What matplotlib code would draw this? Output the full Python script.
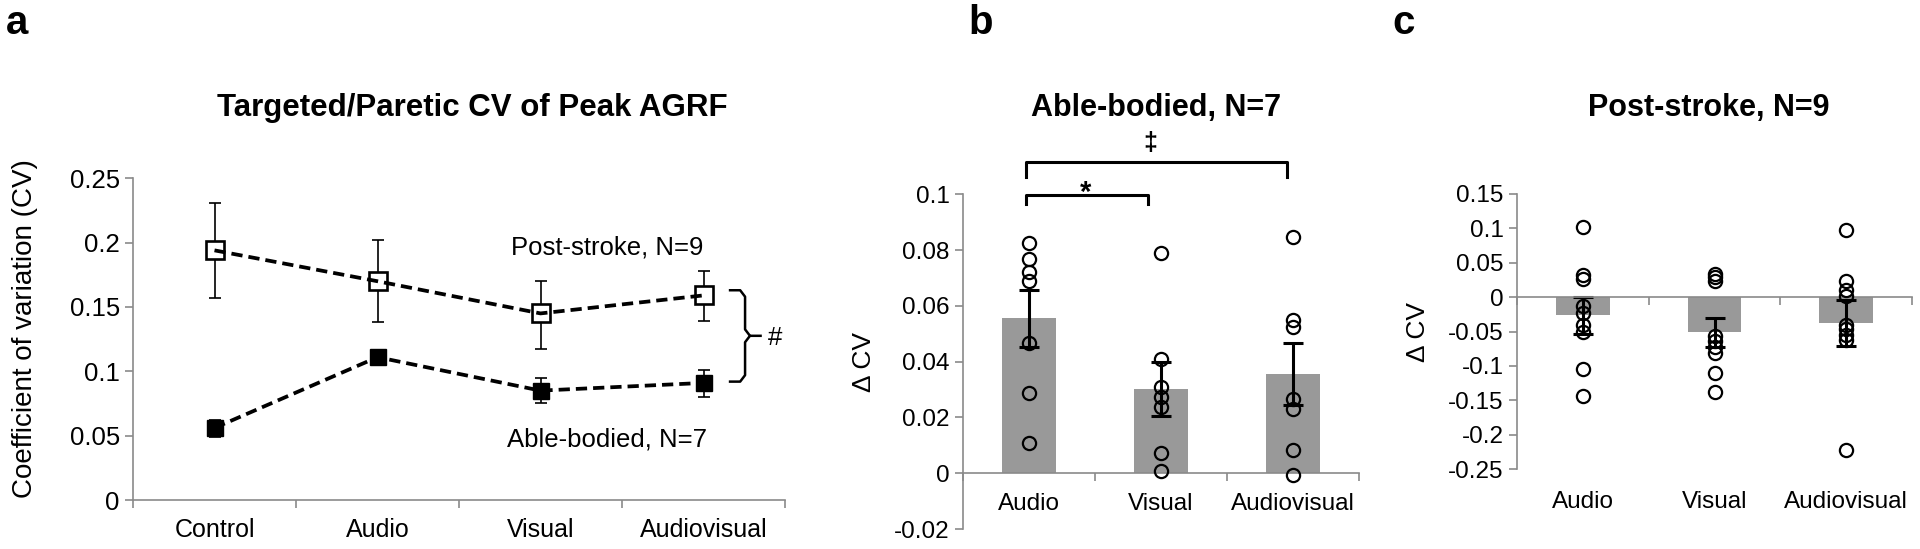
"""
plot.py — CV do pico de AGRF (painel a) e ΔCV por feedback (painéis b, c).

Gera out.png (1920x549).
"""

import numpy as np
import matplotlib
matplotlib.use("Agg")
import matplotlib.pyplot as plt
from matplotlib.ticker import FuncFormatter
from matplotlib.transforms import blended_transform_factory

# ===================================================================
# Dados
# ===================================================================
conds_a = ["Control", "Audio", "Visual", "Audiovisual"]
stroke_mean = [0.194, 0.170, 0.145, 0.159]
stroke_lo = [0.157, 0.138, 0.117, 0.139]
stroke_hi = [0.231, 0.202, 0.170, 0.178]
able_mean = [0.056, 0.111, 0.085, 0.091]
able_lo = [0.049, 0.106, 0.075, 0.080]
able_hi = [0.062, 0.116, 0.095, 0.101]

conds_bc = ["Audio", "Visual", "Audiovisual"]

able_dcv_mean = [0.0556, 0.0301, 0.0356]
able_dcv_se = [0.0102, 0.0097, 0.0110]
able_dcv_pts = [
    [0.0827, 0.0768, 0.0723, 0.0691, 0.0466, 0.0286, 0.0107],
    [0.0791, 0.0408, 0.0310, 0.0274, 0.0236, 0.0071, 0.0008],
    [0.0849, 0.0550, 0.0526, 0.0268, 0.0232, 0.0083, -0.0007],
]

stroke_dcv_mean = [-0.0267, -0.0514, -0.0378]
stroke_dcv_se = [0.027, 0.021, 0.034]
stroke_dcv_pts = [
    [0.1016, 0.0327, 0.0265, -0.0124, -0.0226, -0.0400, -0.0512, -0.1045, -0.1433],
    [0.034, 0.029, 0.023, -0.057, -0.064, -0.072, -0.081, -0.111, -0.138],
    [0.0972, 0.023, 0.011, 0.001, -0.040, -0.047, -0.055, -0.062, -0.222],
]

GRAY_AX = "#8a8a8a"
GRAY_BAR = "#999999"
W, H = 1920, 549

plt.rcParams["font.family"] = ["Liberation Sans", "DejaVu Sans"]


def fx(px):
    return px / W


def fy(py):
    return 1 - py / H


def tick_fmt(v, _pos):
    if abs(v) < 1e-9:
        return "0"
    return f"{round(v, 3):g}"


def style_axis(ax, fs):
    for s in ("top", "right"):
        ax.spines[s].set_visible(False)
    for s in ("left", "bottom"):
        ax.spines[s].set_color(GRAY_AX)
        ax.spines[s].set_linewidth(1.2)
    ax.tick_params(axis="both", direction="out", color=GRAY_AX, width=1.2,
                   length=6, labelsize=fs)
    ax.tick_params(axis="x", labelbottom=False)
    ax.yaxis.set_major_formatter(FuncFormatter(tick_fmt))


def cat_labels(fig, ax, labels, y_px, fs):
    tr = blended_transform_factory(ax.transData, fig.transFigure)
    for i, c in enumerate(labels):
        ax.text(i, fy(y_px), c, transform=tr, ha="center", va="baseline",
                fontsize=fs, clip_on=False)


def bar_panel(fig, ax, means, ses, pts, ylim, step):
    x = np.arange(len(conds_bc))
    ax.bar(x, means, width=0.41, color=GRAY_BAR, zorder=1)
    ax.errorbar(x, means, yerr=ses, fmt="none", ecolor="black",
                elinewidth=2.2, capsize=7, capthick=2.2, zorder=2)
    for i, p in enumerate(pts):
        ax.plot(np.full(len(p), x[i]), p, "o", mfc="none", mec="black",
                ms=9.5, mew=1.6, zorder=3, clip_on=False)
    ax.set_xlim(-0.5, len(conds_bc) - 0.5)
    ax.set_ylim(*ylim)
    ax.set_yticks(np.round(np.arange(ylim[0], ylim[1] + step / 2, step), 3))
    ax.set_xticks(np.arange(-0.5, len(conds_bc), 1.0))
    style_axis(ax, 17.5)
    ax.spines["bottom"].set_position(("data", 0))
    ax.set_ylabel("Δ CV", fontsize=19, labelpad=13)


def main():
    fig = plt.figure(figsize=(W / 100, H / 100), dpi=100)

    # ---------------------------------------------------------------
    # a. CV ao longo das condições
    # ---------------------------------------------------------------
    ax = fig.add_axes([fx(133), fy(500), fx(652), 321.7 / H])
    x = np.arange(len(conds_a))
    sm, am = np.array(stroke_mean), np.array(able_mean)
    ax.errorbar(x, sm, yerr=[sm - stroke_lo, np.array(stroke_hi) - sm],
                fmt="none", ecolor="black", elinewidth=1.2, capsize=4.5,
                capthick=1.2, zorder=1)
    ax.errorbar(x, am, yerr=[am - able_lo, np.array(able_hi) - am],
                fmt="none", ecolor="black", elinewidth=1.2, capsize=4.5,
                capthick=1.2, zorder=1)
    ax.plot(x, sm, "s", mfc="white", mec="black", ms=13.5, mew=1.9, zorder=2)
    ax.plot(x, am, "s", mfc="black", mec="black", ms=12, zorder=2)
    ax.plot(x, sm, ls=(0, (3, 1.6)), color="black", lw=2.7, zorder=3)
    ax.plot(x, am, ls=(0, (3, 1.6)), color="black", lw=2.7, zorder=3)
    ax.set_xlim(-0.5, 3.5)
    ax.set_ylim(0, 0.25)
    ax.set_yticks(np.round(np.arange(0, 0.26, 0.05), 2))
    ax.set_xticks(np.arange(-0.5, 4, 1.0))
    style_axis(ax, 18.5)

    ax.text(3.0, 0.1904, "Post-stroke, N=9", ha="right", va="baseline", fontsize=18.5)
    ax.text(3.02, 0.0412, "Able-bodied, N=7", ha="right", va="baseline", fontsize=18.5)

    # chave "}" entre os grupos
    x0, x1, xn = 3.163, 3.255, 3.35
    top, bot, mid = 0.163, 0.092, 0.1276
    dx, dy = 0.03, 0.005
    ax.plot([x0, x1 - dx, x1, x1, x1 + dx, xn], [top, top, top - dy, mid + dy, mid, mid],
            color="black", lw=1.8, clip_on=False, solid_joinstyle="round")
    ax.plot([x0, x1 - dx, x1, x1, x1 + dx], [bot, bot, bot + dy, mid - dy, mid],
            color="black", lw=1.8, clip_on=False, solid_joinstyle="round")
    ax.text(3.44, 0.1256, "#", ha="center", va="center", fontsize=18.5, clip_on=False)

    cat_labels(fig, ax, conds_a, 537, 18)
    fig.text(fx(25), fy(329), "Coefficient of variation (CV)", rotation=90,
             ha="center", va="center", fontsize=20)
    fig.text(fx(472), fy(116), "Targeted/Paretic CV of Peak AGRF", ha="center",
             va="baseline", fontsize=22.5, fontweight="bold")

    # ---------------------------------------------------------------
    # b. ΔCV controle (able-bodied)
    # ---------------------------------------------------------------
    axb = fig.add_axes([fx(963), fy(529), fx(395.5), 334.6 / H])
    bar_panel(fig, axb, able_dcv_mean, able_dcv_se, able_dcv_pts, (-0.02, 0.1), 0.02)
    cat_labels(fig, axb, conds_bc, 510, 17.5)
    # colchetes de significância
    axb.plot([-0.02, -0.02, 0.90, 0.90], [0.0965, 0.0998, 0.0998, 0.0965],
             color="black", lw=2.2, clip_on=False)
    axb.plot([-0.02, -0.02, 1.956, 1.956], [0.1062, 0.1115, 0.1115, 0.1062],
             color="black", lw=2.2, clip_on=False)
    axb.text(0.43, 0.1005, "*", ha="center", va="center", fontsize=21,
             fontweight="bold", clip_on=False)
    axb.text(0.924, 0.1185, "‡", ha="center", va="center", fontsize=18,
             fontweight="bold", clip_on=False)
    fig.text(fx(1156), fy(116), "Able-bodied, N=7", ha="center", va="baseline",
             fontsize=22, fontweight="bold")

    # ---------------------------------------------------------------
    # c. ΔCV pós-AVC
    # ---------------------------------------------------------------
    axc = fig.add_axes([fx(1517), fy(469), fx(395), 275 / H])
    bar_panel(fig, axc, stroke_dcv_mean, stroke_dcv_se, stroke_dcv_pts, (-0.25, 0.15), 0.05)
    cat_labels(fig, axc, conds_bc, 508, 17.5)
    fig.text(fx(1709), fy(116), "Post-stroke, N=9", ha="center", va="baseline",
             fontsize=22, fontweight="bold")

    # letras dos painéis
    for lab, px in (("a", 6), ("b", 968), ("c", 1392)):
        fig.text(fx(px), fy(4), lab, ha="left", va="top", fontsize=29,
                 fontweight="bold")

    fig.savefig("out.png", dpi=100)
    plt.close(fig)


if __name__ == "__main__":
    main()
